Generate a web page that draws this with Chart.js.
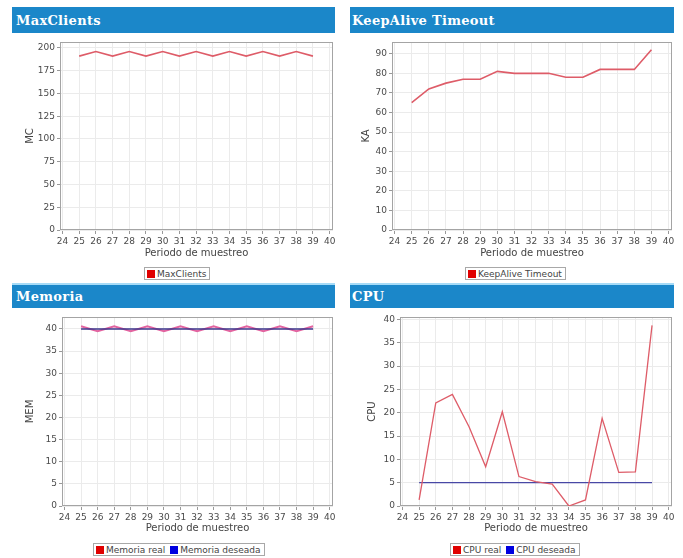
<!DOCTYPE html>
<html><head><meta charset="utf-8">
<script src="https://cdn.jsdelivr.net/npm/chart.js@4.4.1/dist/chart.umd.min.js"></script>
<style>
body{margin:0;background:#fff;width:683px;height:558px;position:relative;overflow:hidden;font-family:"DejaVu Sans",sans-serif}
.hdr{position:absolute;background:#1b87c9;color:#fff;font:bold 13px "DejaVu Serif",serif;letter-spacing:0.3px;box-sizing:border-box;display:flex;align-items:center;white-space:nowrap}
.bline{position:absolute;height:2px;background:#a6dbf7}
canvas{position:absolute}
.leg{position:absolute;border:1px solid #a8a8a8;font:9px "DejaVu Sans",sans-serif;color:#444;display:flex;align-items:center;box-sizing:border-box;height:13px;padding:0 2px;white-space:nowrap;background:#fff}
.leg .sw{display:inline-block;width:8px;height:8px;margin-right:2px}
.leg .it{display:flex;align-items:center;margin-right:5px}
.leg .it:last-child{margin-right:1px}
</style></head>
<body>
<div class="hdr" style="left:12px;top:7px;width:323px;height:26px;padding-left:4px">MaxClients</div>
<div class="hdr" style="left:350px;top:7px;width:324px;height:26px;padding-left:2px">KeepAlive Timeout</div>
<div class="hdr" style="left:12px;top:285px;width:323px;height:23px;padding-left:4px">Memoria</div>
<div class="hdr" style="left:350px;top:285px;width:324px;height:23px;padding-left:2px">CPU</div>
<div class="bline" style="left:12px;top:283px;width:323px"></div>
<div class="bline" style="left:350px;top:283px;width:324px"></div>
<canvas id="c1" width="323" height="230" style="left:12px;top:33px"></canvas>
<canvas id="c2" width="324" height="230" style="left:350px;top:33px"></canvas>
<canvas id="c3" width="323" height="230" style="left:12px;top:308px"></canvas>
<canvas id="c4" width="324" height="230" style="left:350px;top:308px"></canvas>
<script>
// ---- data ----
const periodos = [25,26,27,28,29,30,31,32,33,34,35,36,37,38,39];
const xTickValues = [24,25,26,27,28,29,30,31,32,33,34,35,36,37,38,39,40];
const maxClients = [191,196,191,196,191,196,191,196,191,196,191,196,191,196,191];
const keepAlive = [65,72,75,77,77,81,80,80,80,78,78,82,82,82,92];
const memoriaReal = [40.6,39.5,40.6,39.5,40.6,39.5,40.6,39.5,40.6,39.5,40.6,39.5,40.6,39.5,40.6];
const memoriaDeseada = [40,40,40,40,40,40,40,40,40,40,40,40,40,40,40];
const cpuReal = [1.3,22.1,23.9,17,8.4,20.2,6.3,5.2,4.7,0,1.3,18.8,7.2,7.3,38.7];
const cpuDeseada = [5,5,5,5,5,5,5,5,5,5,5,5,5,5,5];
const ticksMC = [0,25,50,75,100,125,150,175,200];
const ticksKA = [0,10,20,30,40,50,60,70,80,90];
const ticksMEM = [0,5,10,15,20,25,30,35,40];
const ticksCPU = [0,5,10,15,20,25,30,35,40];
const xTitle = 'Periodo de muestreo';

const RED = 'rgb(222,92,104)';
const BLUE = 'rgb(72,72,165)';

const frame = {id:'frame', beforeDatasetsDraw(c){
  const a=c.chartArea, g=c.ctx; g.save(); g.strokeStyle='#a4a4a4'; g.lineWidth=1;
  g.strokeRect(Math.round(a.left)+0.5, Math.round(a.top)+0.5, Math.round(a.right-a.left)-1, Math.round(a.bottom-a.top)-1);
  g.restore();
}};

function makeChart(id, spec){
  return new Chart(document.getElementById(id), {
    type:'line',
    data:{datasets: spec.series.map(s=>({
      label:s.label, data: periodos.map((x,i)=>({x:x, y:s.values[i]})),
      borderColor:s.color, backgroundColor:s.color, borderWidth:s.width,
      pointRadius:0, tension:0, fill:false, order:s.order||0
    }))},
    options:{
      responsive:false, animation:false, devicePixelRatio:1,
      layout:{padding:spec.pad},
      plugins:{legend:{display:false}, tooltip:{enabled:false}},
      scales:{
        x:{type:'linear', min:23.85, max:40.2,
          afterBuildTicks:s=>{s.ticks = xTickValues.map(v=>({value:v}));},
          afterFit:s=>{s.height=spec.xh; s.paddingLeft=0; s.paddingRight=0;},
          grid:{color:'#ebebeb', tickLength:4, tickColor:'#999'},
          border:{display:false},
          ticks:{padding:2, autoSkip:false, maxRotation:0, color:'#4a4a4a', font:{family:'DejaVu Sans', size:9}},
          title:{display:true, text:xTitle, color:'#444', font:{family:'DejaVu Sans', size:10}, padding:{top:0,bottom:4}}
        },
        y:{type:'linear', min:0, max:spec.ymax,
          afterBuildTicks:s=>{s.ticks = spec.yticks.map(v=>({value:v}));},
          afterFit:s=>{s.width=spec.yw; s.paddingTop=0; s.paddingBottom=0;},
          grid:{color:'#ebebeb', tickLength:3, tickColor:'#999'},
          border:{display:false},
          ticks:{padding:2, color:'#4a4a4a', font:{family:'DejaVu Sans', size:9}},
          title:{display:true, text:spec.ytitle, color:'#444', font:{family:'DejaVu Sans', size:10}, padding:{top:4,bottom:0}}
        }
      }
    },
    plugins:[frame]
  });
}

function makeLegend(chart, cx, top, swatches){
  const d=document.createElement('div'); d.className='leg';
  chart.data.datasets.forEach((ds,i)=>{
    const it=document.createElement('span'); it.className='it';
    const sw=document.createElement('span'); sw.className='sw'; sw.style.background=swatches[i];
    it.appendChild(sw); it.appendChild(document.createTextNode(ds.label)); d.appendChild(it);
  });
  document.body.appendChild(d);
  d.style.top=top+'px'; d.style.left=Math.round(cx - d.offsetWidth/2)+'px';
}

const ch1 = makeChart('c1', {pad:{left:8,top:9,right:2,bottom:0}, yw:40, xh:33, ymax:206.5, yticks:ticksMC, ytitle:'MC',
  series:[{label:'MaxClients', values:maxClients, color:RED, width:1.6}]});
const ch2 = makeChart('c2', {pad:{left:6,top:9,right:2,bottom:0}, yw:36, xh:33, ymax:96, yticks:ticksKA, ytitle:'KA',
  series:[{label:'KeepAlive Timeout', values:keepAlive, color:RED, width:1.6}]});
const ch3 = makeChart('c3', {pad:{left:8,top:9,right:2,bottom:0}, yw:42, xh:32, ymax:42.7, yticks:ticksMEM, ytitle:'MEM',
  series:[{label:'Memoria real', values:memoriaReal, color:'rgb(226,100,160)', width:2, order:1},
          {label:'Memoria deseada', values:memoriaDeseada, color:'rgb(60,55,140)', width:1.5, order:0}]});
const ch4 = makeChart('c4', {pad:{left:12,top:9,right:2,bottom:0}, yw:38, xh:32, ymax:40.5, yticks:ticksCPU, ytitle:'CPU',
  series:[{label:'CPU real', values:cpuReal, color:RED, width:1.3, order:0},
          {label:'CPU deseada', values:cpuDeseada, color:BLUE, width:1.3, order:1}]});

makeLegend(ch1, 177, 267, ['#e00000']);
makeLegend(ch2, 515, 267, ['#e00000']);
makeLegend(ch3, 179, 543, ['#e00000','#0000e0']);
makeLegend(ch4, 515, 543, ['#e00000','#0000e0']);
</script>
</body></html>
